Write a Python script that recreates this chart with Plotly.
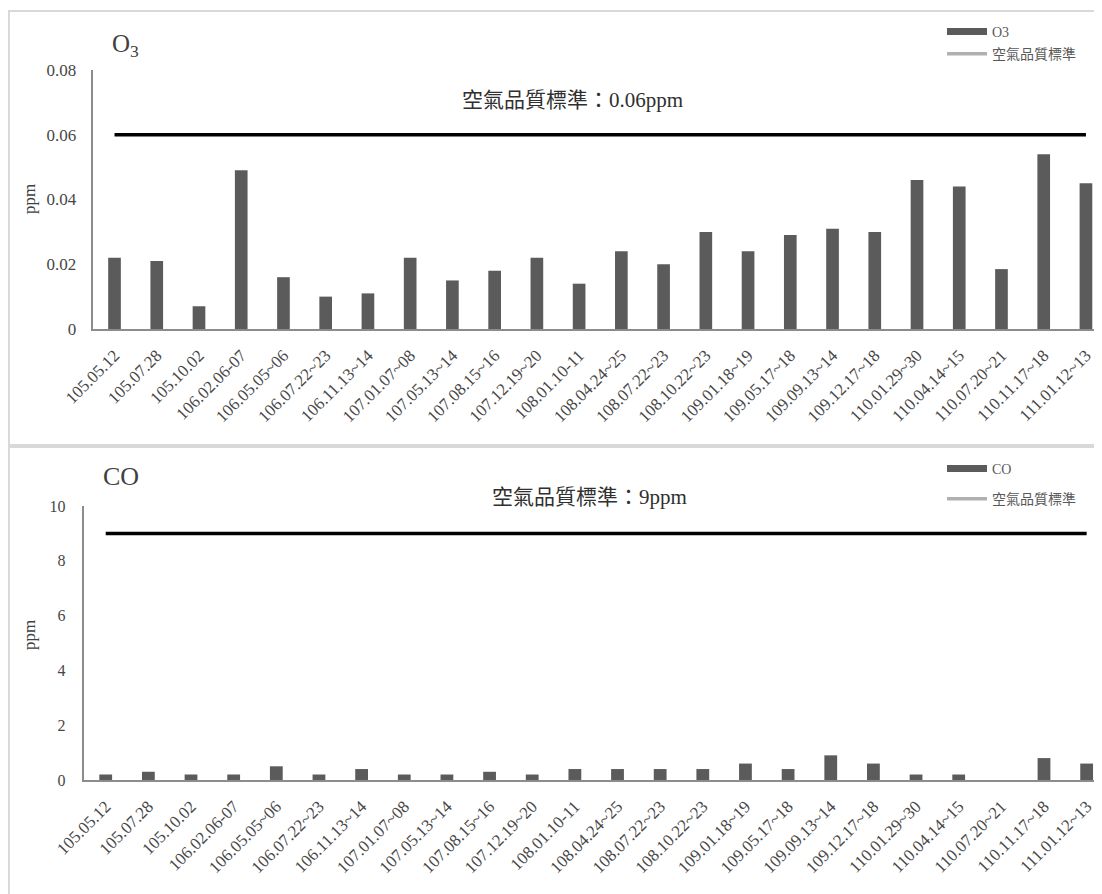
import plotly.graph_objects as go

dates = ["105.05.12", "105.07.28", "105.10.02", "106.02.06-07", "106.05.05~06",
         "106.07.22~23", "106.11.13~14", "107.01.07~08", "107.05.13~14", "107.08.15~16",
         "107.12.19~20", "108.01.10-11", "108.04.24~25", "108.07.22~23", "108.10.22~23",
         "109.01.18~19", "109.05.17~18", "109.09.13~14", "109.12.17~18", "110.01.29~30",
         "110.04.14~15", "110.07.20~21", "110.11.17~18", "111.01.12~13"]

o3 = [0.022, 0.021, 0.007, 0.049, 0.016, 0.010, 0.011, 0.022, 0.015, 0.018,
      0.022, 0.014, 0.024, 0.020, 0.030, 0.024, 0.029, 0.031, 0.030, 0.046,
      0.044, 0.0185, 0.054, 0.045]

co = [0.2, 0.3, 0.2, 0.2, 0.5, 0.2, 0.4, 0.2, 0.2, 0.3,
      0.2, 0.4, 0.4, 0.4, 0.4, 0.6, 0.4, 0.9, 0.6, 0.2,
      0.2, None, 0.8, 0.6]

o3_standard = 0.06
co_standard = 9
o3_ticks = [0, 0.02, 0.04, 0.06, 0.08]
o3_ticktext = ["0", "0.02", "0.04", "0.06", "0.08"]
co_ticks = [0, 2, 4, 6, 8, 10]

# page body has an 8px margin; screen coordinates are converted to figure coordinates
OFF = 8
W, H = 1094, 886
SERIF = "Liberation Serif, Times New Roman, Noto Sans CJK TC, serif"
BAR_COLOR = "#5b5b5b"
AXIS_COLOR = "#8c8c8c"
TXT = "#404040"
TICK = "#474747"


def px_x(p):
    return (p - OFF) / W


def px_y(p):
    return 1 - (p - OFF) / H


fig = go.Figure()

# ---- top: O3 ----
fig.add_trace(go.Bar(x=dates, y=o3, marker=dict(color=BAR_COLOR, line=dict(width=0)),
                     width=0.3, xaxis="x", yaxis="y", showlegend=False, name="O3"))
fig.add_trace(go.Scatter(x=dates, y=[o3_standard] * len(dates), mode="lines",
                         line=dict(color="black", width=3.5), xaxis="x", yaxis="y",
                         showlegend=False, name="空氣品質標準"))
fig.add_trace(go.Scatter(x=[None], y=[None], mode="lines", name="O3",
                         line=dict(color=BAR_COLOR, width=7), legend="legend",
                         legendgroup="a", xaxis="x", yaxis="y"))
fig.add_trace(go.Scatter(x=[None], y=[None], mode="lines", name="空氣品質標準",
                         line=dict(color="#b0b0b0", width=3.5), legend="legend",
                         legendgroup="b", xaxis="x", yaxis="y"))

# ---- bottom: CO ----
fig.add_trace(go.Bar(x=dates, y=co, marker=dict(color=BAR_COLOR, line=dict(width=0)),
                     width=0.3, xaxis="x2", yaxis="y2", showlegend=False, name="CO"))
fig.add_trace(go.Scatter(x=dates, y=[co_standard] * len(dates), mode="lines",
                         line=dict(color="black", width=3.5), xaxis="x2", yaxis="y2",
                         showlegend=False, name="空氣品質標準"))
fig.add_trace(go.Scatter(x=[None], y=[None], mode="lines", name="CO",
                         line=dict(color=BAR_COLOR, width=7), legend="legend2",
                         legendgroup="c", xaxis="x2", yaxis="y2"))
fig.add_trace(go.Scatter(x=[None], y=[None], mode="lines", name="空氣品質標準",
                         line=dict(color="#b0b0b0", width=3.5), legend="legend2",
                         legendgroup="d", xaxis="x2", yaxis="y2"))

xcommon = dict(type="category", categoryorder="array", categoryarray=dates,
               showgrid=False, zeroline=False, showline=True, linecolor=AXIS_COLOR,
               linewidth=1.5, ticks="", tickangle=-45, automargin=False,
               ticklabelstandoff=8,
               tickfont=dict(family=SERIF, size=17, color=TICK))
ycommon = dict(showgrid=False, zeroline=False, showline=True, linecolor=AXIS_COLOR,
               linewidth=1.5, ticks="", automargin=False,
               tickfont=dict(family=SERIF, size=17, color=TICK))

fig.update_layout(
    width=W, height=H,
    margin=dict(l=0, r=0, t=0, b=0),
    paper_bgcolor="white", plot_bgcolor="white",
    xaxis=dict(xcommon, domain=[px_x(93.4), 1.0], range=[-0.5, 23.38], anchor="y"),
    yaxis=dict(ycommon, domain=[px_y(329), px_y(70)], range=[0, 0.08],
               tickvals=o3_ticks, ticktext=o3_ticktext, anchor="x", ticklabelstandoff=12),
    xaxis2=dict(xcommon, domain=[px_x(84.4), 1.0], range=[-0.5, 23.36], anchor="y2"),
    yaxis2=dict(ycommon, domain=[px_y(780), px_y(506)], range=[0, 10],
                tickvals=co_ticks, anchor="x2", ticklabelstandoff=14,
                tickfont=dict(family=SERIF, size=16, color=TICK)),
    legend=dict(x=px_x(942), y=px_y(16), xanchor="left", yanchor="top",
                bgcolor="rgba(0,0,0,0)", itemwidth=40, tracegroupgap=1,
                font=dict(family=SERIF, size=14, color="#595959")),
    legend2=dict(x=px_x(942), y=px_y(453), xanchor="left", yanchor="top",
                 bgcolor="rgba(0,0,0,0)", itemwidth=40, tracegroupgap=9,
                 font=dict(family=SERIF, size=14, color="#595959")),
    shapes=[
        dict(type="rect", xref="paper", yref="paper", x0=px_x(9), x1=1.05,
             y0=px_y(445), y1=px_y(11), line=dict(color="#d9d9d9", width=2)),
        dict(type="rect", xref="paper", yref="paper", x0=px_x(9), x1=1.05,
             y0=-0.05, y1=px_y(447), line=dict(color="#d9d9d9", width=2)),
    ],
    annotations=[
        dict(text="O<sub>3</sub>", x=px_x(110), y=px_y(45), xref="paper", yref="paper",
             xanchor="left", yanchor="middle", showarrow=False,
             font=dict(family=SERIF, size=25, color=TXT)),
        dict(text="CO", x=px_x(101), y=px_y(476), xref="paper", yref="paper",
             xanchor="left", yanchor="middle", showarrow=False,
             font=dict(family=SERIF, size=26, color=TXT)),
        dict(text="空氣品質標準：0.06ppm", x=px_x(572), y=px_y(100), xref="paper",
             yref="paper", xanchor="center", yanchor="middle", showarrow=False,
             font=dict(family=SERIF, size=21, color="#303030")),
        dict(text="空氣品質標準：9ppm", x=px_x(589), y=px_y(497), xref="paper",
             yref="paper", xanchor="center", yanchor="middle", showarrow=False,
             font=dict(family=SERIF, size=21, color="#303030")),
        dict(text="ppm", x=px_x(29), y=px_y(199), xref="paper", yref="paper",
             xanchor="center", yanchor="middle", textangle=-90, showarrow=False,
             font=dict(family=SERIF, size=17, color=TXT)),
        dict(text="ppm", x=px_x(29), y=px_y(635), xref="paper", yref="paper",
             xanchor="center", yanchor="middle", textangle=-90, showarrow=False,
             font=dict(family=SERIF, size=17, color=TXT)),
    ],
)

fig.write_html("out.html")
